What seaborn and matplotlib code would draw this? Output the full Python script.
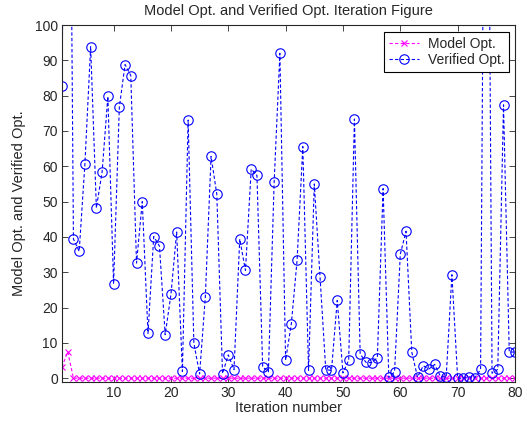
import numpy as np
import pandas as pd
import matplotlib
matplotlib.use("Agg")
import matplotlib.pyplot as plt
import seaborn as sns

# iteration index 1..80
iteration = list(range(1, 81))

verified_opt = [82.8, 250, 39.4, 35.9, 60.7, 93.9, 48.2, 58.4, 79.8, 26.7,
                76.7, 88.8, 85.7, 32.6, 50.0, 12.7, 40.1, 37.4, 12.3, 23.7,
                41.4, 1.9, 73.1, 9.9, 1.2, 23.0, 62.8, 52.1, 1.3, 6.6,
                2.4, 39.4, 30.5, 59.2, 57.4, 3.2, 1.8, 55.5, 92.0, 5.1,
                15.4, 33.4, 65.6, 2.2, 55.0, 28.7, 2.4, 2.2, 22.0, 1.5,
                5.1, 73.4, 6.9, 4.5, 4.4, 5.8, 53.7, 0.2, 1.8, 35.1,
                41.6, 7.4, 0.3, 3.5, 2.6, 3.9, 0.5, 0.3, 29.3, 0.0,
                0.0, 0.4, 0.1, 2.5, 250, 1.4, 2.5, 77.4, 7.4, 7.4]

model_opt = [3.1, 7.5] + [0.0] * 78

df = pd.DataFrame({"iter": iteration, "model": model_opt, "verified": verified_opt})

sns.set_style("ticks")
plt.rcParams["font.family"] = ["Liberation Sans", "DejaVu Sans"]
plt.rcParams["xtick.direction"] = "in"
plt.rcParams["ytick.direction"] = "in"

fig = plt.figure(figsize=(5.27, 4.23), dpi=100)
ax = fig.add_axes([0.1176, 0.0976, 0.8596, 0.8432])

sns.lineplot(data=df, x="iter", y="model", ax=ax, color="#ff00ff",
             marker="x", markersize=4.5, markeredgewidth=0.8,
             markeredgecolor="#ff00ff",
             linestyle=(0, (3, 2)), linewidth=0.8, label="Model Opt.")
sns.lineplot(data=df, x="iter", y="verified", ax=ax, color="#0000ff",
             marker="o", markersize=6.8, markerfacecolor="none",
             markeredgecolor="#0000ff", markeredgewidth=0.8,
             linestyle=(0, (3, 2)), linewidth=0.8, label="Verified Opt.")

ax.set_xlim(1, 80)
ax.set_ylim(-1, 100)
ax.set_xticks([10, 20, 30, 40, 50, 60, 70, 80])
ax.set_yticks(range(0, 101, 10))
ax.tick_params(labelsize=10, top=True, right=True, length=4, width=0.6, pad=3)
for s in ax.spines.values():
    s.set_linewidth(0.8)
    s.set_visible(True)

ax.set_xlabel("Iteration number", fontsize=10.5, labelpad=1)
ax.set_ylabel("Model Opt. and Verified Opt.", fontsize=10.5, labelpad=6)
ax.set_title("Model Opt. and Verified Opt. Iteration Figure", fontsize=10.5, pad=7)

leg = ax.legend(loc="upper right", fontsize=10, fancybox=False, framealpha=1,
                edgecolor="black", handlelength=2.2, handletextpad=0.6,
                borderpad=0.35, labelspacing=0.15, borderaxespad=0,
                bbox_to_anchor=(0.987, 0.98))
leg.get_frame().set_linewidth(0.8)

fig.savefig("out.png", dpi=100)
